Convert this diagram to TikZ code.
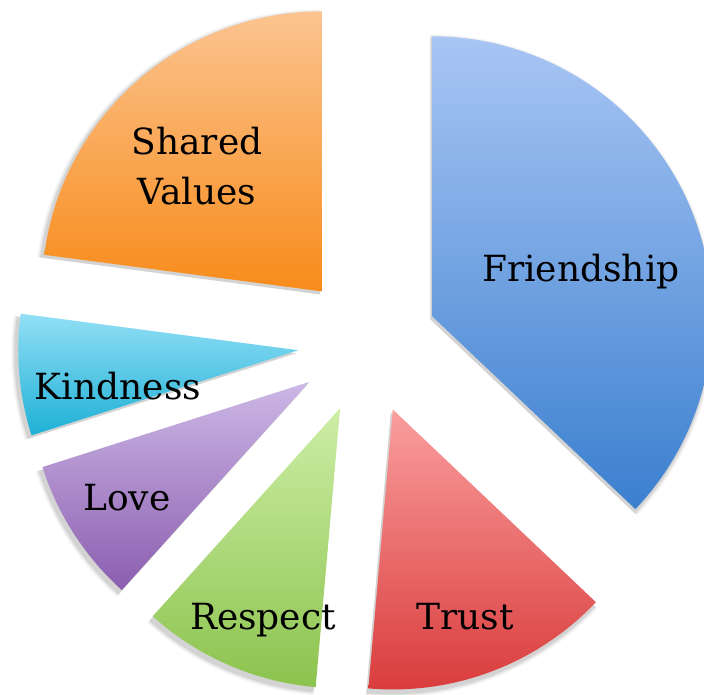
\documentclass[tikz,border=0pt]{standalone}
\usepackage{fontspec}
\setmainfont{DejaVu Serif}
\usetikzlibrary{calc}
\definecolor{frT}{HTML}{A9C6F4}\definecolor{frB}{HTML}{3A7FCF}
\definecolor{trT}{HTML}{FA9E9E}\definecolor{trB}{HTML}{D93A3A}
\definecolor{reT}{HTML}{CDEEA6}\definecolor{reB}{HTML}{8CC34E}
\definecolor{loT}{HTML}{CDB8E6}\definecolor{loB}{HTML}{8B5DAF}
\definecolor{kiT}{HTML}{92DFF5}\definecolor{kiB}{HTML}{1EB0D6}
\definecolor{shT}{HTML}{FBC490}\definecolor{shB}{HTML}{F88B1A}
\newcommand\pieshadow[2]{%
  \pgfmathsetmacro\midang{(#1+#2)/2}%
  \foreach \k/\op in {5/0.04,3.5/0.06,2/0.08}{%
    \fill[black,opacity=\op] ($(C)+(\midang:70)+(-2,-3)$) -- +(#1:280+\k) arc[start angle=#1, end angle=#2, radius=280+\k] -- cycle;}%
}
\newcommand\pieslice[4]{%
  \pgfmathsetmacro\midang{(#1+#2)/2}%
  \shade[top color=#3, bottom color=#4] ($(C)+(\midang:70)$) -- +(#1:280) arc[start angle=#1, end angle=#2, radius=280] -- cycle;%
}
\tikzset{lbl/.style={font=\fontsize{36}{40}\selectfont, text=black, anchor=base, inner sep=0pt}}
\begin{document}
\begin{tikzpicture}[x=1pt,y=1pt]
\clip (0,0) rectangle (704,694);
\fill[white] (0,0) rectangle (704,694);
\coordinate (C) at (368,350);
\pieshadow{-43.5}{90}
\pieshadow{-95}{-43.5}
\pieshadow{-132}{-95}
\pieshadow{-162.3}{-132}
\pieshadow{172.5}{197.7}
\pieshadow{90}{172.5}
\pieslice{-43.5}{90}{frT}{frB}
\pieslice{-95}{-43.5}{trT}{trB}
\pieslice{-132}{-95}{reT}{reB}
\pieslice{-162.3}{-132}{loT}{loB}
\pieslice{172.5}{197.7}{kiT}{kiB}
\pieslice{90}{172.5}{shT}{shB}
\node[lbl] (sv1) at (197,539) {Shared};
\node[lbl] (sv2) at (197,489) {Values};
\node[lbl] (fr) at (581,412) {Friendship};
\node[lbl] (ki) at (118,294) {Kindness};
\node[lbl] (lo) at (127,184) {Love};
\node[lbl] (re) at (263,65) {Respect};
\node[lbl] (tr) at (465,65) {Trust};
\end{tikzpicture}
\end{document}
